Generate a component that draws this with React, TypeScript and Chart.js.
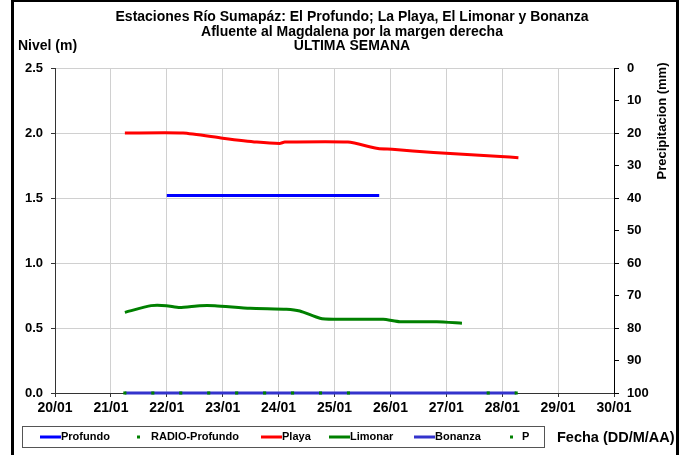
import React, { useEffect, useRef } from "react";
import { Chart, registerables } from "chart.js";

Chart.register(...registerables);

// ---------- data ----------
const titleLines = [
  "Estaciones Río Sumapáz: El Profundo; La Playa, El Limonar y Bonanza",
  "Afluente al Magdalena por la margen derecha",
  "ULTIMA SEMANA",
];
const xTickLabels = ["20/01", "21/01", "22/01", "23/01", "24/01", "25/01", "26/01", "27/01", "28/01", "29/01", "30/01"];
const leftTitle = "Nivel (m)";
const rightTitle = "Precipitacion (mm)";
const xTitle = "Fecha (DD/M/AA)";

// time in days of January
const profundoX = [22.0, 23.0, 24.0, 25.0, 25.8];
const profundoY = [1.52, 1.52, 1.52, 1.52, 1.52];

const radioX = [21.25, 21.75, 22.25, 22.75, 23.25, 23.75, 24.25, 24.75, 25.25, 27.75, 28.25];
const radioY = [0, 0, 0, 0, 0, 0, 0, 0, 0, 0, 0];

const playaX = [21.25, 22.29, 23.0, 23.61, 24.02, 24.11, 25.24, 25.78, 26.03, 26.77, 27.97, 28.29];
const playaY = [2.0, 2.0, 1.96, 1.93, 1.92, 1.93, 1.93, 1.88, 1.875, 1.85, 1.82, 1.81];

const limonarX = [21.25, 21.72, 21.99, 22.23, 22.59, 22.86, 23.49, 24.14, 24.38, 24.74, 24.98, 25.87, 26.17, 26.83, 27.28];
const limonarY = [0.62, 0.672, 0.672, 0.657, 0.672, 0.672, 0.652, 0.645, 0.631, 0.575, 0.567, 0.567, 0.548, 0.548, 0.537];

const bonanzaX = [21.25, 21.75, 22.25, 22.75, 23.25, 23.75, 24.25, 24.75, 25.25, 25.75, 26.25, 26.75, 27.25, 27.75, 28.25];
const bonanzaY = [0, 0, 0, 0, 0, 0, 0, 0, 0, 0, 0, 0, 0, 0, 0];

const pX: number[] = [];
const pY: number[] = [];

const zip = (xs: number[], ys: number[]) => xs.map((x, i) => ({ x, y: ys[i] }));

const FONT = "'Liberation Sans', Arial, sans-serif";

const decorPlugin = {
  id: "decor",
  afterDraw(chart: any) {
    const ctx = chart.ctx as CanvasRenderingContext2D;
    ctx.save();
    // frame
    ctx.fillStyle = "#000";
    ctx.fillRect(11, 0, 3, 455);
    ctx.fillRect(11, 0, 668, 2);
    ctx.fillRect(676, 0, 3, 455);

    // titles
    ctx.fillStyle = "#000";
    ctx.textBaseline = "middle";
    ctx.textAlign = "center";
    ctx.font = `bold 14px ${FONT}`;
    const ty = [17, 32, 46];
    titleLines.forEach((t, i) => ctx.fillText(t, 352, ty[i]));

    ctx.textAlign = "left";
    ctx.fillText(leftTitle, 18, 46);

    ctx.font = `bold 14.5px ${FONT}`;
    ctx.fillText(xTitle, 557, 438);

    ctx.font = `bold 13px ${FONT}`;
    ctx.save();
    ctx.translate(662, 121);
    ctx.rotate(-Math.PI / 2);
    ctx.textAlign = "center";
    ctx.fillText(rightTitle, 0, 0);
    ctx.restore();

    // legend box
    ctx.strokeStyle = "#555";
    ctx.lineWidth = 1;
    ctx.strokeRect(22.5, 426.5, 522, 21);
    const starts = [40, 134, 261, 329, 414, 507];
    ctx.font = `bold 11px ${FONT}`;
    ctx.textAlign = "left";
    const ly = 437;
    chart.data.datasets.forEach((ds: any, i: number) => {
      const x0 = starts[i];
      if (ds.showLine === false) {
        ctx.fillStyle = ds.pointBackgroundColor;
        ctx.fillRect(x0 + 3, ly - 1.5, 3, 3);
        ctx.fillStyle = "#000";
        ctx.fillText(ds.label, x0 + (i === 5 ? 15 : 17), ly);
      } else {
        ctx.strokeStyle = ds.borderColor;
        ctx.lineWidth = 3;
        ctx.beginPath();
        ctx.moveTo(x0, ly);
        ctx.lineTo(x0 + 21, ly);
        ctx.stroke();
        ctx.fillStyle = "#000";
        ctx.fillText(ds.label, x0 + 21, ly);
      }
    });
    ctx.restore();
  },
};

export default function App() {
  const ref = useRef<HTMLCanvasElement>(null);
  useEffect(() => {
    document.body.style.margin = "0";
    const lineDs = (label: string, color: string, xs: number[], ys: number[]) => ({
      label,
      data: zip(xs, ys),
      borderColor: color,
      backgroundColor: color,
      borderWidth: 3,
      pointRadius: 0,
      tension: 0.2,
      yAxisID: "y",
      clip: false,
    });
    const dotDs = (label: string, color: string, xs: number[], ys: number[], axis: string) => ({
      label,
      data: zip(xs, ys),
      showLine: false,
      borderColor: color,
      backgroundColor: color,
      pointBackgroundColor: color,
      pointBorderColor: color,
      pointStyle: "rect",
      pointRadius: 2.2,
      pointBorderWidth: 0,
      yAxisID: axis,
      clip: false,
    });
    const chart = new Chart(ref.current!, {
      type: "line",
      data: {
        datasets: [
          lineDs("Profundo", "#0000ff", profundoX, profundoY),
          dotDs("RADIO-Profundo", "#008000", radioX, radioY, "y"),
          lineDs("Playa", "#ff0000", playaX, playaY),
          lineDs("Limonar", "#008000", limonarX, limonarY),
          lineDs("Bonanza", "#3333cc", bonanzaX, bonanzaY),
          dotDs("P", "#008000", pX, pY, "y2"),
        ] as any,
      },
      options: {
        responsive: false,
        animation: false,
        devicePixelRatio: 1,
        layout: { padding: { top: 68, left: 0, right: 0, bottom: 0 } },
        plugins: { legend: { display: false }, tooltip: { enabled: false }, title: { display: false } },
        scales: {
          x: {
            type: "linear",
            min: 20,
            max: 30,
            afterFit: (s: any) => { s.height = 62; },
            ticks: {
              stepSize: 1,
              color: "#000",
              font: { family: FONT, size: 14, weight: "bold" },
              padding: 3,
              maxRotation: 0,
              callback: (v: any) => xTickLabels[Math.round(v) - 20],
            },
            grid: { color: "#d0d0d0", lineWidth: 1, tickLength: 4, tickColor: "#333" },
            border: { color: "#333", width: 1 },
          },
          y: {
            position: "left",
            min: 0,
            max: 2.5,
            afterFit: (s: any) => { s.width = 55; },
            ticks: {
              stepSize: 0.5,
              color: "#000",
              font: { family: FONT, size: 13, weight: "bold" },
              padding: 8,
              callback: (v: any) => Number(v).toFixed(1),
            },
            grid: { color: "#d0d0d0", lineWidth: 1, tickLength: 4, tickColor: "#333" },
            border: { color: "#333", width: 1 },
          },
          y2: {
            position: "right",
            min: 0,
            max: 100,
            reverse: true,
            afterFit: (s: any) => { s.width = 70; },
            ticks: {
              stepSize: 10,
              color: "#000",
              font: { family: FONT, size: 13, weight: "bold" },
              padding: 8,
            },
            grid: { drawOnChartArea: false, tickLength: 5, tickColor: "#000" },
            border: { color: "#000", width: 1 },
          },
        },
      } as any,
      plugins: [decorPlugin],
    });
    return () => chart.destroy();
  }, []);
  return <canvas ref={ref} width={684} height={455} style={{ display: "block", width: 684, height: 455 }} />;
}
